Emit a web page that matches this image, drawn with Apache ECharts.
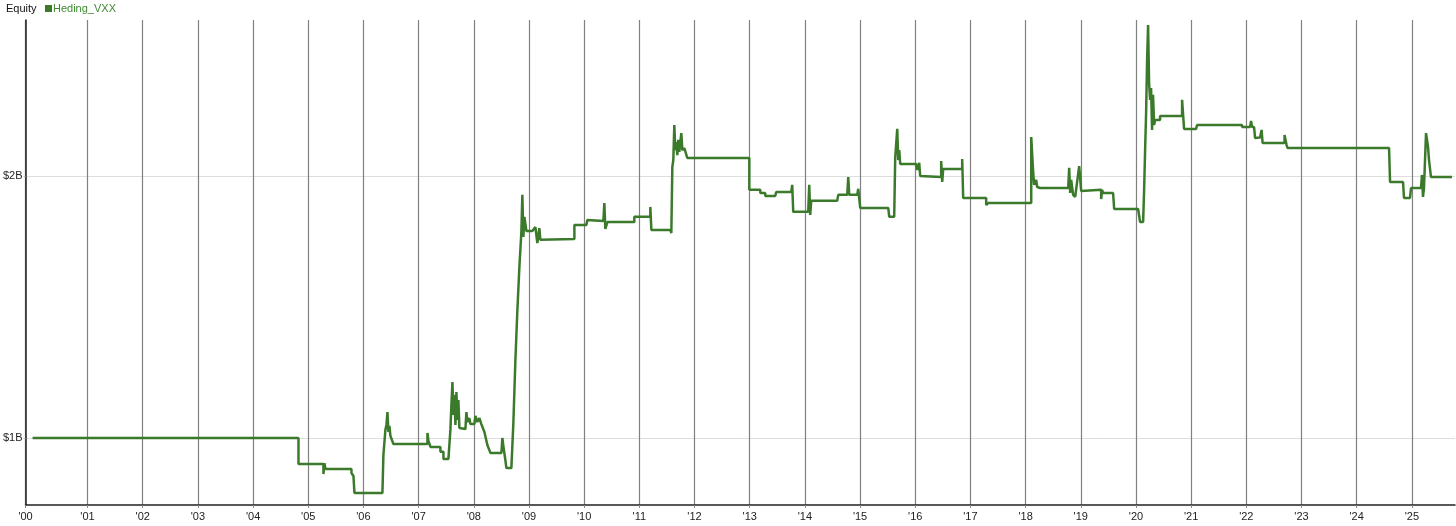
<!DOCTYPE html>
<html>
<head>
<meta charset="utf-8">
<script src="https://cdn.jsdelivr.net/npm/echarts@6/dist/echarts.min.js"></script>
<style>
html,body{margin:0;padding:0;background:#fff;}
#chart{width:1456px;height:526px;}
</style>
</head>
<body>
<div id="chart"></div>
<script>
// Dates as fractional years, equity in billions of dollars
const dates = [
2000.004,2004.823,2004.823,2005.275,2005.275,2005.293,2005.312,2005.783,2005.783,2005.819,2005.837,2005.837,
2006.344,2006.362,2006.398,2006.417,2006.435,2006.453,2006.471,2006.489,2006.525,2006.543,2007.160,2007.160,
2007.178,2007.214,2007.395,2007.395,2007.450,2007.450,2007.540,2007.576,2007.594,2007.613,2007.631,2007.649,
2007.667,2007.685,2007.703,2007.721,2007.739,2007.757,2007.848,2007.866,2007.884,2007.920,2007.938,2008.011,
2008.029,2008.065,2008.101,2008.137,2008.192,2008.246,2008.301,2008.500,2008.518,2008.536,2008.572,2008.591,
2008.681,2008.717,2008.754,2008.790,2008.826,2008.862,2008.880,2008.898,2008.917,2008.953,2009.061,2009.116,
2009.152,2009.188,2009.206,2009.224,2009.823,2009.823,2010.040,2010.058,2010.094,2010.348,2010.366,2010.384,
2010.420,2010.909,2010.909,2011.199,2011.199,2011.218,2011.562,2011.580,2011.598,2011.616,2011.634,2011.652,
2011.670,2011.688,2011.706,2011.724,2011.761,2011.779,2011.815,2011.869,2012.993,2012.993,2013.192,2013.192,
2013.282,2013.282,2013.463,2013.481,2013.753,2013.771,2013.789,2014.061,2014.079,2014.097,2014.115,2014.586,
2014.605,2014.768,2014.786,2014.804,2014.949,2014.967,2015.003,2015.511,2015.529,2015.619,2015.637,2015.674,
2015.692,2015.710,2015.728,2016.018,2016.036,2016.072,2016.090,2016.126,2016.470,2016.470,2016.489,2016.507,
2016.851,2016.851,2016.869,2017.286,2017.286,2017.322,2018.102,2018.102,2018.138,2018.156,2018.192,2018.210,
2018.264,2018.772,2018.790,2018.808,2018.826,2018.862,2018.899,2018.935,2018.971,2019.007,2019.025,2019.369,
2019.369,2019.387,2019.405,2019.586,2019.605,2020.039,2020.075,2020.130,2020.148,2020.166,2020.184,2020.202,
2020.220,2020.238,2020.256,2020.274,2020.292,2020.310,2020.329,2020.347,2020.437,2020.437,2020.836,2020.836,
2020.872,2021.089,2021.108,2021.923,2021.923,2022.068,2022.086,2022.104,2022.141,2022.159,2022.249,2022.277,
2022.295,2022.693,2022.693,2022.729,2022.747,2024.587,2024.605,2024.840,2024.858,2024.967,2024.985,2025.166,
2025.184,2025.202,2025.220,2025.257,2025.293,2025.311,2025.347,2025.727
];
const equity = [
1.000,1.000,0.901,0.901,0.862,0.904,0.882,0.882,0.866,0.855,0.855,0.790,
0.790,0.935,1.031,1.050,1.099,1.023,1.046,1.008,1.008,0.977,0.977,1.019,
0.989,0.966,0.966,0.947,0.947,0.920,0.920,1.031,1.126,1.214,1.088,1.164,
1.050,1.176,1.069,1.145,1.038,1.034,1.034,1.099,1.061,1.076,1.053,1.053,
1.084,1.061,1.076,1.053,1.023,0.973,0.943,0.943,1.000,0.969,0.916,0.885,
0.885,1.057,1.298,1.489,1.653,1.787,1.929,1.768,1.845,1.791,1.791,1.806,
1.745,1.802,1.757,1.760,1.760,1.814,1.814,1.833,1.829,1.829,1.898,1.799,
1.825,1.825,1.845,1.845,1.883,1.795,1.795,1.783,2.036,2.062,2.196,2.100,
2.131,2.081,2.139,2.093,2.165,2.100,2.108,2.070,2.070,1.948,1.948,1.936,
1.936,1.925,1.925,1.940,1.940,1.967,1.864,1.864,1.967,1.852,1.906,1.906,
1.929,1.929,1.997,1.929,1.929,1.952,1.879,1.879,1.845,1.845,2.070,2.181,
2.062,2.100,2.047,2.047,2.024,2.051,2.001,1.997,1.997,2.058,1.978,2.028,
2.028,2.066,1.917,1.917,1.890,1.898,1.898,2.150,2.013,1.967,1.986,1.959,
1.955,1.955,2.032,1.936,1.986,1.929,1.921,1.921,2.039,1.944,1.948,1.948,
1.913,1.948,1.936,1.936,1.875,1.875,1.825,1.825,1.948,2.100,2.242,2.444,
2.578,2.357,2.292,2.337,2.177,2.311,2.196,2.215,2.215,2.230,2.230,2.292,
2.181,2.181,2.196,2.196,2.188,2.188,2.211,2.188,2.188,2.146,2.148,2.177,
2.127,2.127,2.158,2.120,2.108,2.108,1.978,1.978,1.917,1.917,1.955,1.955,
2.005,1.921,1.955,2.165,2.112,2.062,1.997,1.997
];
const yearTicks = [1999.877,2001,2002,2003,2004,2005,2006,2007,2008,2009,2010,2011,2012,2013,
  2014,2015,2016,2017,2018,2019,2020,2021,2022,2023,2024,2025];
const valueTicks = [1, 2];
const seriesName = 'Heding_VXX';
const panelTitle = 'Equity';

const lineColor = '#3b7a2b';
const seriesData = dates.map((d, i) => [d, equity[i]]);

const chart = echarts.init(document.getElementById('chart'), null, {renderer: 'canvas'});
chart.setOption({
  animation: false,
  backgroundColor: '#ffffff',
  textStyle: {fontFamily: 'Liberation Sans, Arial, sans-serif'},
  graphic: [{
    type: 'text', left: 6, top: 3,
    style: {text: panelTitle, fill: '#111', font: '11px "Liberation Sans", Arial, sans-serif'}
  }],
  legend: {
    left: 45, top: 3, padding: 0, itemWidth: 7, itemHeight: 7, itemGap: 10,
    icon: 'rect',
    textStyle: {color: '#3f8a30', fontSize: 11, fontFamily: 'Liberation Sans, Arial, sans-serif', padding: [0,0,0,-4]},
    data: [{name: seriesName, itemStyle: {color: lineColor}}]
  },
  grid: {left: 25, right: 1, top: 20, bottom: 21, containLabel: false},
  xAxis: {
    type: 'value', min: 1999.877, max: 2025.782,
    axisLine: {show: true, lineStyle: {color: '#222', width: 1.5}},
    axisTick: {show: true, length: 3, customValues: yearTicks, lineStyle: {color: '#888'}},
    axisLabel: {
      customValues: yearTicks, color: '#222', fontSize: 11, margin: 6,
      formatter: v => "'" + String(Math.round(v) % 100).padStart(2, '0')
    },
    splitLine: {show: true, lineStyle: {color: '#808080', width: 1.2}}
  },
  yAxis: {
    type: 'value', min: 0.744, max: 2.597,
    axisLine: {show: true, lineStyle: {color: '#222', width: 1.5}},
    axisTick: {show: true, length: 2, customValues: valueTicks, lineStyle: {color: '#bbb'}},
    axisLabel: {customValues: valueTicks, color: '#222', fontSize: 11, margin: 3,
      formatter: v => '$' + Math.round(v) + 'B'},
    splitLine: {show: true, lineStyle: {color: '#dedede', width: 1}}
  },
  series: [{
    name: seriesName, type: 'line', data: seriesData,
    showSymbol: false, symbol: 'none',
    lineStyle: {color: lineColor, width: 2.5},
    itemStyle: {color: lineColor}
  }]
});
</script>
</body>
</html>
